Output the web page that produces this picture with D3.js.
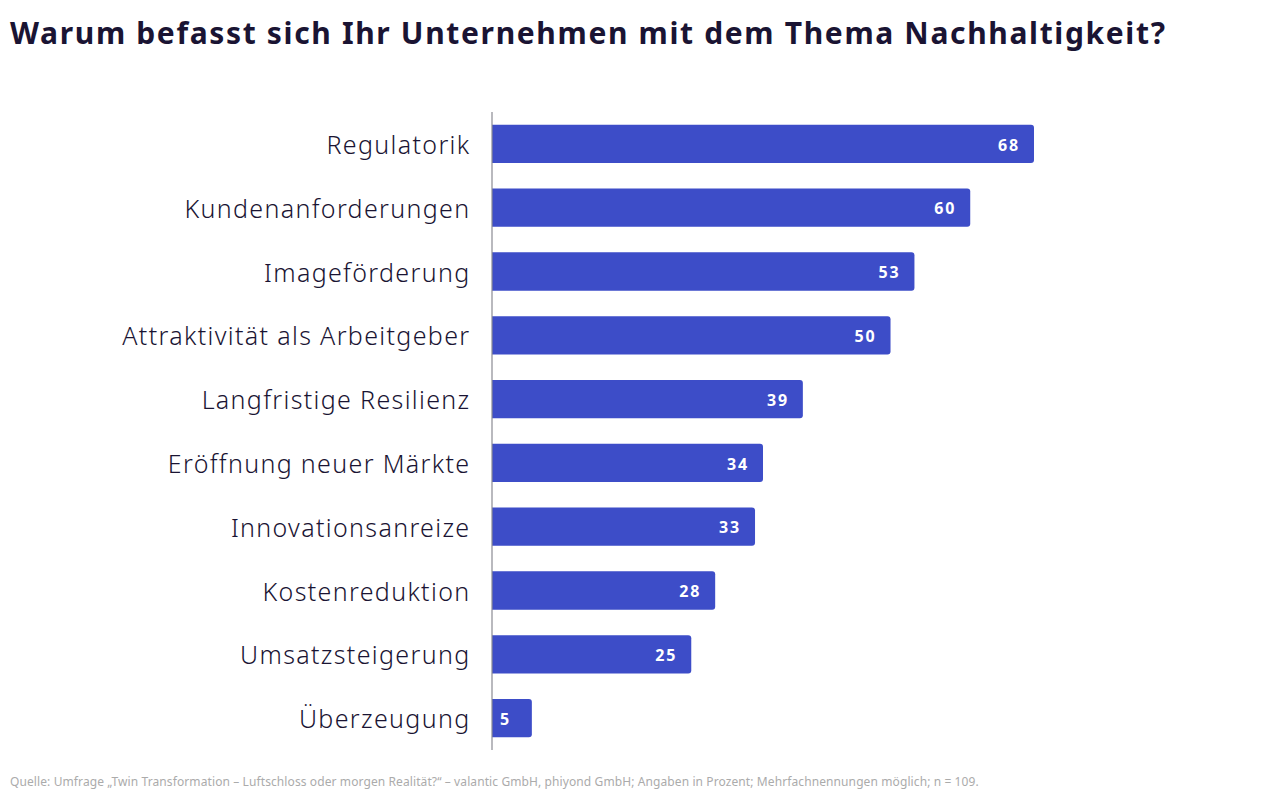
<!DOCTYPE html>
<html>
<head>
<meta charset="utf-8">
<script src="https://cdn.jsdelivr.net/npm/d3@7"></script>
<style>
  body { margin: 0; background: #fff; }
  svg { display: block; }
</style>
</head>
<body>
<div id="chart"></div>
<script>
var categories = ["Regulatorik", "Kundenanforderungen", "Imageförderung", "Attraktivität als Arbeitgeber",
  "Langfristige Resilienz", "Eröffnung neuer Märkte", "Innovationsanreize", "Kostenreduktion",
  "Umsatzsteigerung", "Überzeugung"];
var values = [68, 60, 53, 50, 39, 34, 33, 28, 25, 5];

var title = "Warum befasst sich Ihr Unternehmen mit dem Thema Nachhaltigkeit?";
var source = "Quelle: Umfrage \u201eTwin Transformation \u2013 Luftschloss oder morgen Realität?\u201c \u2013 valantic GmbH, phiyond GmbH; Angaben in Prozent; Mehrfachnennungen möglich; n = 109.";

var W = 1280, H = 800;
var ink = "#1a1433", barColor = "#3d4dc8";
var font = "'Noto Sans', sans-serif";

var svg = d3.select("#chart").append("svg").attr("width", W).attr("height", H);

var x = d3.scaleLinear().domain([0, 68]).range([492, 1034]);
var y = d3.scaleBand().domain(categories).range([112, 750]).paddingInner(0.4).paddingOuter(0.2);

svg.append("text")
  .attr("x", 10).attr("y", 44)
  .attr("font-family", font).attr("font-weight", 700).attr("font-size", 30)
  .attr("letter-spacing", 1.65)
  .attr("fill", ink)
  .text(title);

// bars, rounded on the right end only
function barPath(v, c) {
  var x0 = x(0), x1 = x(v), y0 = y(c), h = y.bandwidth(), r = 3;
  return "M" + x0 + "," + y0 + "H" + (x1 - r) + "Q" + x1 + "," + y0 + " " + x1 + "," + (y0 + r) +
    "V" + (y0 + h - r) + "Q" + x1 + "," + (y0 + h) + " " + (x1 - r) + "," + (y0 + h) + "H" + x0 + "Z";
}

svg.selectAll(".bar").data(values).enter().append("path")
  .attr("class", "bar")
  .attr("fill", barColor)
  .attr("d", function(d, i) { return barPath(d, categories[i]); });

svg.selectAll(".val").data(values).enter().append("text")
  .attr("class", "val")
  .attr("x", function(d) { return (x(d) - x(0) < 60) ? x(0) + 8 : x(d) - 14; })
  .attr("text-anchor", function(d) { return (x(d) - x(0) < 60) ? "start" : "end"; })
  .attr("y", function(d, i) { return y(categories[i]) + y.bandwidth() / 2; })
  .attr("dy", "0.42em")
  .attr("font-family", font).attr("font-weight", 700).attr("font-size", 16)
  .attr("letter-spacing", 1.8)
  .attr("fill", "#fff")
  .text(function(d) { return d; });

svg.selectAll(".cat").data(categories).enter().append("text")
  .attr("class", "cat")
  .attr("x", 470.5)
  .attr("text-anchor", "end")
  .attr("y", function(d) { return y(d) + y.bandwidth() / 2; })
  .attr("dy", "0.4em")
  .attr("font-family", font).attr("font-weight", 300).attr("font-size", 25)
  .attr("letter-spacing", 1.35)
  .attr("fill", ink)
  .text(function(d) { return d; });

svg.append("line")
  .attr("x1", x(0)).attr("x2", x(0))
  .attr("y1", 112).attr("y2", 750)
  .attr("stroke", "#8a8a93").attr("stroke-width", 1.2);

svg.append("text")
  .attr("x", 10).attr("y", 786)
  .attr("font-family", font).attr("font-size", 12)
  .attr("letter-spacing", 0.1)
  .attr("fill", "#ababab")
  .text(source);
</script>
</body>
</html>
